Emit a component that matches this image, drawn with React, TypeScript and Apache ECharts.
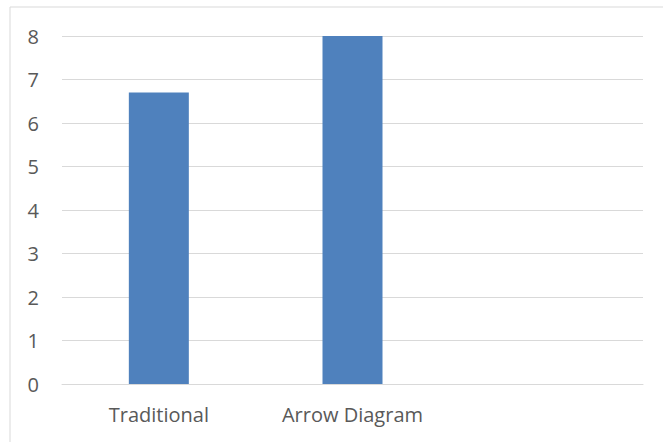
import React, { useEffect, useRef } from "react";
import * as echarts from "echarts";

const categories = ["Traditional", "Arrow Diagram", ""];
const values = [6.7, 8, null];
const yTicks = { min: 0, max: 8, interval: 1 };

export default function App() {
  const ref = useRef<HTMLDivElement>(null);
  useEffect(() => {
    if (!ref.current) return;
    const chart = echarts.init(ref.current, undefined, { renderer: "svg" });
    const font = "'Open Sans', 'Noto Sans', sans-serif";
    chart.setOption({
      animation: false,
      backgroundColor: "#ffffff",
      grid: { left: 62, right: 20, top: 36, bottom: 58, containLabel: false },
      graphic: [
        {
          type: "rect",
          shape: { x: 10, y: 7, width: 700, height: 500 },
          style: { fill: "none", stroke: "#d9d9d9", lineWidth: 1 },
          silent: true,
        },
      ],
      xAxis: {
        type: "category",
        data: categories,
        axisLine: { show: true, lineStyle: { color: "#d9d9d9", width: 1 } },
        axisTick: { show: false },
        axisLabel: { color: "#595959", fontSize: 20, fontFamily: font, margin: 20, interval: 0 },
      },
      yAxis: {
        type: "value",
        min: yTicks.min,
        max: yTicks.max,
        interval: yTicks.interval,
        axisLine: { show: false },
        axisTick: { show: false },
        axisLabel: { color: "#595959", fontSize: 20, fontFamily: font, margin: 23 },
        splitLine: { lineStyle: { color: "#d9d9d9", width: 1 } },
      },
      series: [
        {
          type: "bar",
          data: values,
          barWidth: 60,
          itemStyle: { color: "#4f81bd" },
        },
      ],
    });
    return () => chart.dispose();
  }, []);
  return (
    <div
      ref={ref}
      style={{ position: "fixed", left: 0, top: 0, width: 663, height: 442 }}
    />
  );
}
